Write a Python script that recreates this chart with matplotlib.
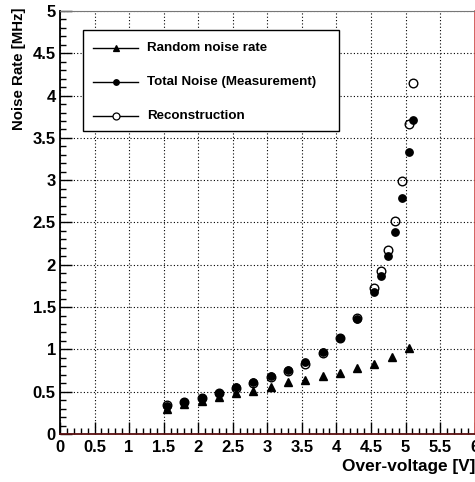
import matplotlib
matplotlib.use("Agg")
import matplotlib.pyplot as plt
from matplotlib.ticker import MultipleLocator, FormatStrFormatter
from matplotlib.lines import Line2D
from matplotlib.patches import Rectangle

# ---- data ----
x_random = [1.55, 1.80, 2.05, 2.30, 2.55, 2.80, 3.05, 3.30, 3.55, 3.80, 4.05, 4.30, 4.55, 4.80, 5.05]
y_random = [0.30, 0.36, 0.39, 0.44, 0.48, 0.51, 0.55, 0.61, 0.64, 0.68, 0.72, 0.78, 0.83, 0.91, 1.02]

x_total = [1.55, 1.80, 2.05, 2.30, 2.55, 2.80, 3.05, 3.30, 3.55, 3.80, 4.05, 4.30, 4.55,
           4.65, 4.75, 4.85, 4.95, 5.05, 5.11]
y_total = [0.33, 0.38, 0.43, 0.49, 0.55, 0.61, 0.69, 0.76, 0.85, 0.97, 1.13, 1.36, 1.68,
           1.87, 2.10, 2.39, 2.79, 3.33, 3.71]

x_reco = [1.55, 1.80, 2.05, 2.30, 2.55, 2.80, 3.05, 3.30, 3.55, 3.80, 4.05, 4.30, 4.55,
          4.65, 4.75, 4.85, 4.95, 5.05, 5.11]
y_reco = [0.34, 0.38, 0.42, 0.49, 0.54, 0.60, 0.67, 0.75, 0.83, 0.96, 1.13, 1.37, 1.72,
          1.93, 2.18, 2.52, 2.99, 3.67, 4.15]

legend_labels = ["Random noise rate", "Total Noise (Measurement)", "Reconstruction"]
xlabel = "Over-voltage [V]"
ylabel = "Noise Rate [MHz]"

plt.rcParams['font.family'] = ['Liberation Sans', 'DejaVu Sans']
plt.rcParams['font.weight'] = 'bold'

W, H = 475, 482
fig = plt.figure(figsize=(W / 100, H / 100), dpi=100)
ax = fig.add_axes([60 / W, (H - 434) / H, 414.6 / W, 423 / H])

ax.set_xlim(0, 6)
ax.set_ylim(0, 5)

ax.plot(x_random, y_random, linestyle='none', marker='^', color='black', ms=6.0)
ax.plot(x_total, y_total, linestyle='none', marker='o', color='black', ms=5.3)
ax.plot(x_reco, y_reco, linestyle='none', marker='o', mfc='none', mec='black', mew=1.0, ms=6.2)

# grid & ticks
ax.xaxis.set_major_locator(MultipleLocator(0.5))
ax.xaxis.set_minor_locator(MultipleLocator(0.1))
ax.yaxis.set_major_locator(MultipleLocator(0.5))
ax.yaxis.set_minor_locator(MultipleLocator(0.1))
ax.xaxis.set_major_formatter(FormatStrFormatter('%g'))
ax.yaxis.set_major_formatter(FormatStrFormatter('%g'))
ax.grid(True, which='major', color='black', linestyle=(0, (1, 2)), linewidth=0.8)
ax.tick_params(which='major', direction='in', length=8.5, width=1.0, labelsize=12)
ax.tick_params(axis='x', which='major', pad=4)
ax.tick_params(axis='y', which='major', pad=3)
ax.tick_params(which='minor', direction='in', length=4.3, width=1.0)
ax.tick_params(top=False, right=False, which='both')
for lbl in ax.get_xticklabels() + ax.get_yticklabels():
    lbl.set_fontweight('bold')

ax.spines['left'].set_color('black')
ax.spines['left'].set_linewidth(1.3)
ax.spines['bottom'].set_color('#5a0f0f')
ax.spines['bottom'].set_linewidth(1.3)
ax.spines['right'].set_color('#d04848')
ax.spines['right'].set_linewidth(1.2)
ax.spines['top'].set_color('#777777')
ax.spines['top'].set_linewidth(0.8)

# axis titles
fig.text(19 / W, 1 - 8 / H, ylabel, rotation=90, ha='center', va='top',
         fontsize=10.8, fontweight='bold')
fig.text(475 / W, 1 - 467 / H, xlabel, ha='right', va='center',
         fontsize=12.4, fontweight='bold')

# legend (drawn manually)
def fx(px):
    return (px - 60) / 414.6

def fy(py):
    return (434 - py) / 423

ax.add_patch(Rectangle((fx(83), fy(131)), fx(339) - fx(83), fy(30) - fy(131),
                       transform=ax.transAxes, facecolor='white', edgecolor='black',
                       linewidth=1.0, zorder=5))
rows = [48, 82, 116]
styles = [dict(marker='^', mfc='black', ms=5.0),
          dict(marker='o', mfc='black', ms=4.0),
          dict(marker='o', mfc='white', ms=5.0)]
for py, st, lab in zip(rows, styles, legend_labels):
    ax.add_line(Line2D([fx(93), fx(138)], [fy(py), fy(py)], transform=ax.transAxes,
                       color='black', linewidth=1.0, zorder=6))
    ax.add_line(Line2D([fx(115.5)], [fy(py)], transform=ax.transAxes, linestyle='none',
                       mec='black', mew=0.9, zorder=7, **st))
    ax.text(fx(147), fy(py), lab, transform=ax.transAxes, ha='left', va='center',
            fontsize=9.6, fontweight='bold', zorder=7)

fig.savefig("out.png", dpi=100)
